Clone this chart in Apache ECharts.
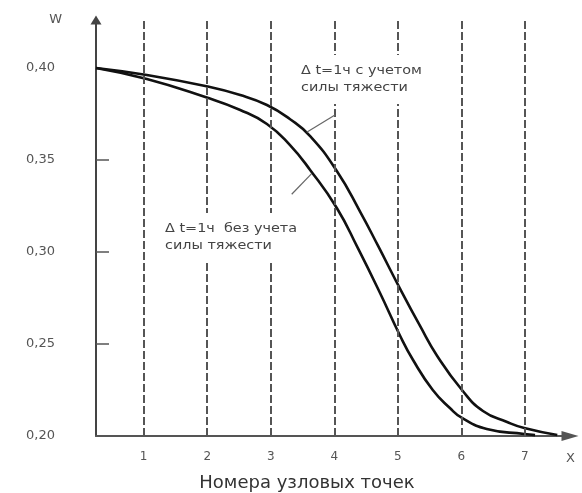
<!DOCTYPE html>
<html>
<head>
<meta charset="utf-8">
<script src="https://cdn.jsdelivr.net/npm/echarts@6/dist/echarts.min.js"></script>
<style>
html,body{margin:0;padding:0;background:#fff;}
#chart{width:582px;height:493px;}
</style>
</head>
<body>
<div id="chart"></div>
<script>
// Node numbers (vertical dashed lines / x tick labels)
const nodeNumbers = [1, 2, 3, 4, 5, 6, 7];
// W tick values
const wTicks = [0.20, 0.25, 0.30, 0.35, 0.40];
const wInnerTicks = [0.25, 0.30, 0.35];

// Curve "Δt=1ч с учетом силы тяжести"
const upperX = [0.25, 1.05, 1.97, 2.52, 2.94, 3.30, 3.62, 4.04, 4.41, 4.69, 5.03, 5.35, 5.62, 6.01, 6.34, 6.72, 6.99, 7.51];
const upperW = [0.400, 0.3962, 0.3902, 0.3853, 0.3799, 0.3723, 0.3630, 0.3440, 0.3217, 0.3033, 0.2804, 0.2598, 0.2435, 0.2250, 0.2136, 0.2076, 0.2043, 0.2005];

// Curve "Δt=1ч без учета силы тяжести"
const lowerX = [0.25, 1.05, 1.97, 2.52, 2.94, 3.30, 3.62, 4.04, 4.37, 4.72, 5.03, 5.24, 5.55, 5.82, 6.01, 6.40, 6.99, 7.16];
const lowerW = [0.400, 0.3940, 0.3842, 0.3772, 0.3696, 0.3582, 0.3446, 0.3239, 0.3022, 0.2777, 0.2549, 0.2413, 0.2250, 0.2152, 0.2098, 0.2038, 0.2011, 0.2005];

// Annotation pointer segments (data space)
const upperPointer = [[3.566, 0.3651], [4.011, 0.3745]];
const lowerPointer = [[3.330, 0.3314], [3.640, 0.3425]];

const upperLabel = ['Δ t=1ч с учетом', 'силы тяжести'];
const lowerLabel = ['Δ t=1ч  без учета', 'силы тяжести'];

const zip = (xs, ys) => xs.map((x, i) => [x, ys[i]]);

const chart = echarts.init(document.getElementById('chart'), null, {renderer: 'canvas'});
const FONT = 'DejaVu Sans';

chart.setOption({
  animation: false,
  backgroundColor: '#fff',
  grid: {left: 96, right: 12, top: 20, bottom: 57, containLabel: false, outerBoundsMode: 'none'},
  xAxis: {
    type: 'value',
    min: 0.25,
    max: 7.71,
    name: 'Номера узловых точек',
    nameLocation: 'middle',
    nameGap: 38,
    nameTextStyle: {fontFamily: FONT, fontSize: 18, color: '#333', padding: [0, 52, 0, 0]},
    axisLine: {show: true, symbol: ['none', 'triangle'], symbolSize: [10, 17], lineStyle: {color: '#555', width: 2}},
    axisTick: {show: false},
    splitLine: {show: false},
    axisLabel: {customValues: nodeNumbers, margin: 15, fontFamily: FONT, fontSize: 12, color: '#555'}
  },
  yAxis: {
    type: 'value',
    min: 0.2,
    max: 0.4261,
    interval: 0.05,
    name: 'W',
    nameLocation: 'end',
    nameGap: 0,
    nameTextStyle: {fontFamily: FONT, fontSize: 13, color: '#555', align: 'right', verticalAlign: 'middle', padding: [0, 34, 0, 0]},
    axisLine: {show: true, symbol: ['none', 'triangle'], symbolSize: [11, 9], lineStyle: {color: '#444', width: 2}},
    axisTick: {show: true, inside: true, length: 13, customValues: wInnerTicks, lineStyle: {color: '#555', width: 1.5}},
    splitLine: {show: false},
    axisLabel: {
      customValues: wTicks,
      margin: 41,
      fontFamily: FONT,
      fontSize: 13,
      color: '#555',
      formatter: v => v.toFixed(2).replace('.', ',')
    }
  },
  series: [
    {
      type: 'line',
      data: [],
      z: 1,
      silent: true,
      markLine: {
        silent: true,
        symbol: 'none',
        animation: false,
        label: {show: false},
        lineStyle: {type: [8, 3], color: '#555', width: 2},
        data: nodeNumbers.map(v => ({xAxis: v})).concat([
          [{coord: upperPointer[0], lineStyle: {type: 'solid', width: 1.2, color: '#666'}}, {coord: upperPointer[1]}],
          [{coord: lowerPointer[0], lineStyle: {type: 'solid', width: 1.2, color: '#666'}}, {coord: lowerPointer[1]}]
        ])
      }
    },
    {
      name: 'с учетом силы тяжести',
      type: 'line',
      data: zip(upperX, upperW),
      symbol: 'none',
      smooth: 0.5,
      z: 3,
      lineStyle: {color: '#111', width: 2.6}
    },
    {
      name: 'без учета силы тяжести',
      type: 'line',
      data: zip(lowerX, lowerW),
      symbol: 'none',
      smooth: 0.5,
      z: 3,
      lineStyle: {color: '#111', width: 2.6}
    }
  ],
  graphic: [
    {
      type: 'text', x: 295, y: 55, scaleX: 1.2, z: 100,
      style: {
        text: upperLabel.join('\n'), fontFamily: FONT, fontSize: 12, lineHeight: 17,
        fill: '#444', backgroundColor: '#fff', padding: [7, 5, 8, 5]
      }
    },
    {
      type: 'text', x: 159, y: 213, scaleX: 1.2, z: 100,
      style: {
        text: lowerLabel.join('\n'), fontFamily: FONT, fontSize: 12, lineHeight: 17,
        fill: '#444', backgroundColor: '#fff', padding: [7, 5, 8, 5]
      }
    },
    {
      type: 'text', x: 566, y: 452, z: 100,
      style: {text: 'X', fontFamily: FONT, fontSize: 13, fill: '#555'}
    }
  ]
});
</script>
</body>
</html>
